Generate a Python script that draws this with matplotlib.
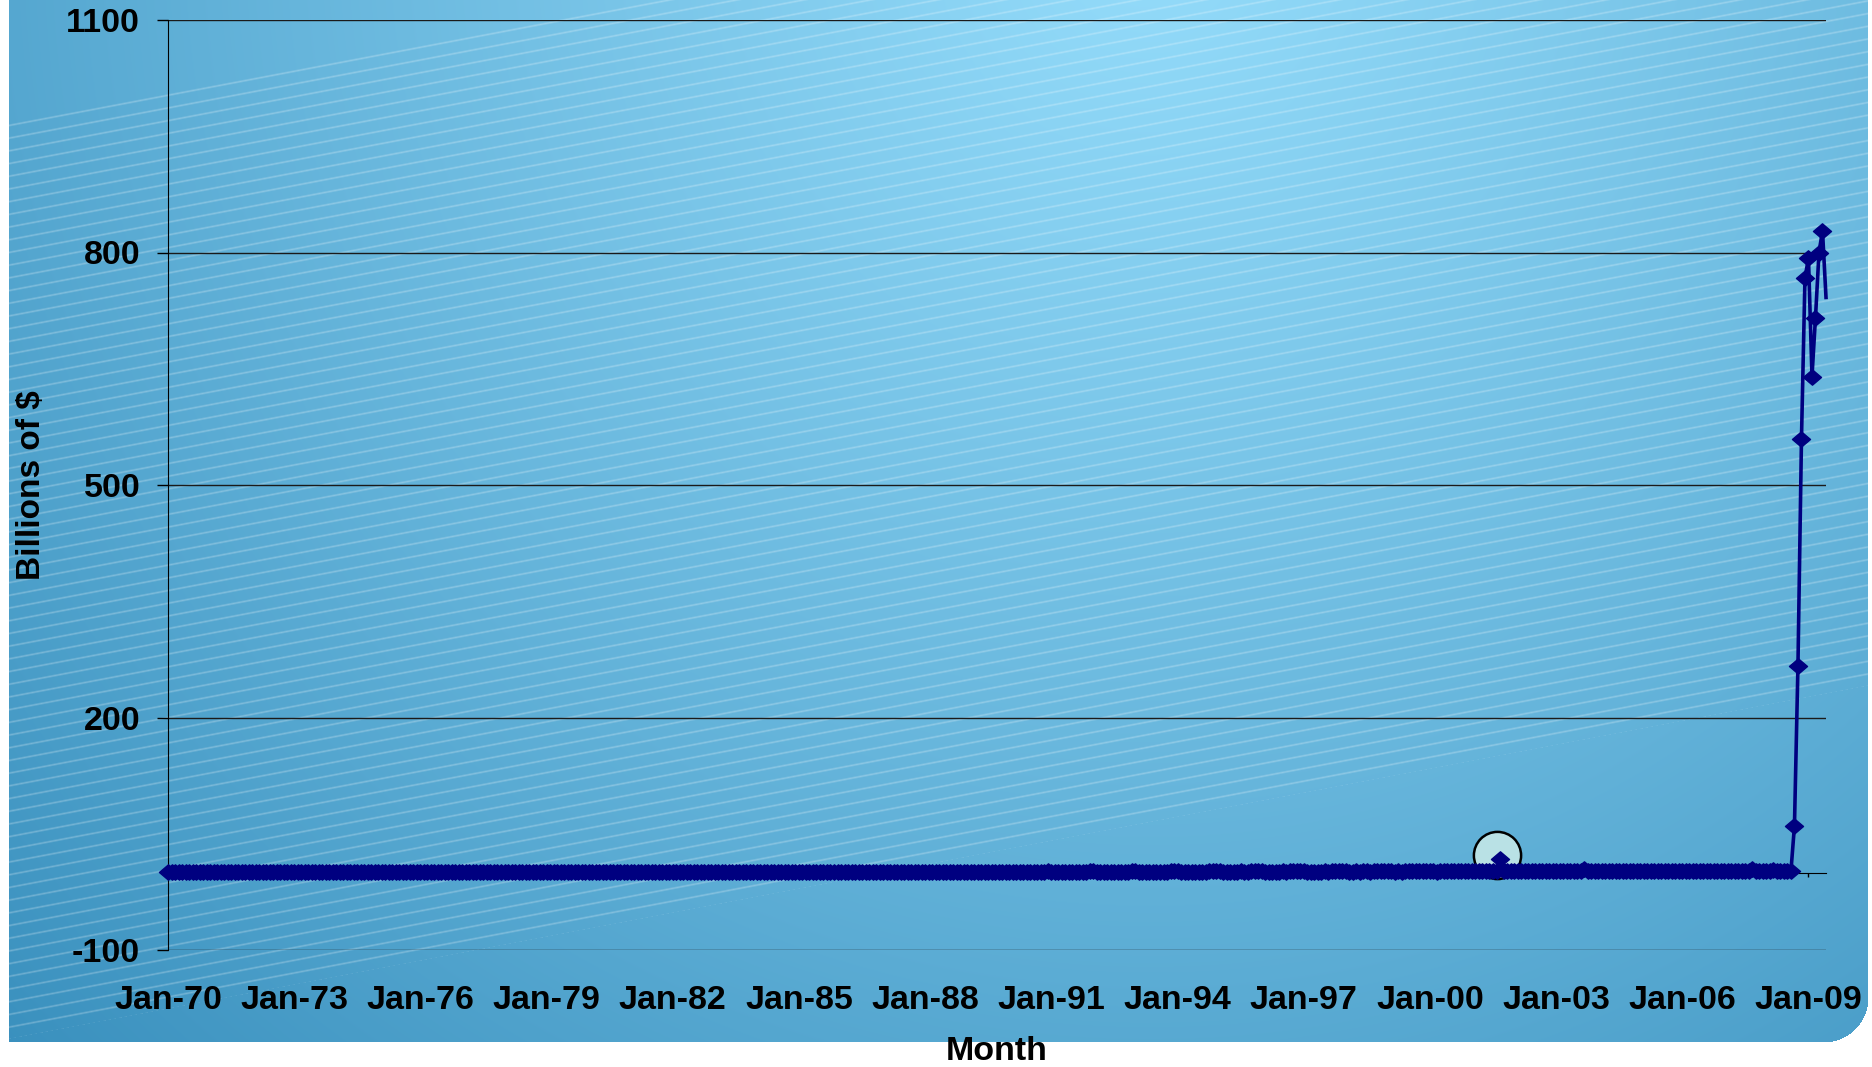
import numpy as np
import matplotlib
matplotlib.use("Agg")
import matplotlib.pyplot as plt
from matplotlib.path import Path

plt.rcParams['font.family'] = ['Liberation Sans', 'DejaVu Sans']
plt.rcParams['font.weight'] = 'bold'

# excess reserves, billions of $, monthly Jan-1970 .. Jun-2009
y1970s = [
    0.18, 0.17, 0.15, 0.20, 0.16, 0.14, 0.18, 0.17, 0.16, 0.15, 0.17, 0.19,
    0.21, 0.19, 0.17, 0.18, 0.22, 0.20, 0.19, 0.17, 0.18, 0.20, 0.21, 0.23,
    0.24, 0.20, 0.22, 0.19, 0.21, 0.23, 0.25, 0.22, 0.20, 0.24, 0.26, 0.28,
    0.25, 0.22, 0.24, 0.21, 0.20, 0.23, 0.22, 0.24, 0.26, 0.25, 0.27, 0.30,
    0.27, 0.25, 0.24, 0.22, 0.26, 0.28, 0.25, 0.23, 0.27, 0.29, 0.30, 0.32,
    0.30, 0.27, 0.26, 0.29, 0.31, 0.28, 0.27, 0.25, 0.30, 0.32, 0.34, 0.36,
    0.33, 0.30, 0.28, 0.31, 0.29, 0.27, 0.30, 0.26, 0.28, 0.31, 0.33, 0.35,
    0.31, 0.28, 0.27, 0.30, 0.26, 0.25, 0.29, 0.24, 0.27, 0.30, 0.32, 0.34,
    0.30, 0.27, 0.25, 0.28, 0.26, 0.29, 0.27, 0.24, 0.28, 0.31, 0.33, 0.37,
    0.34, 0.30, 0.28, 0.32, 0.29, 0.31, 0.33, 0.28, 0.30, 0.35, 0.38, 0.42,
]
y1980s = [
    0.45, 0.38, 0.36, 0.40, 0.35, 0.39, 0.42, 0.37, 0.41, 0.44, 0.47, 0.52,
    0.48, 0.40, 0.37, 0.42, 0.38, 0.36, 0.41, 0.39, 0.43, 0.46, 0.49, 0.55,
    0.51, 0.44, 0.41, 0.46, 0.43, 0.40, 0.45, 0.42, 0.47, 0.50, 0.53, 0.60,
    0.58, 0.49, 0.46, 0.52, 0.48, 0.51, 0.55, 0.50, 0.54, 0.57, 0.61, 0.68,
    0.66, 0.55, 0.52, 0.60, 0.56, 0.59, 0.63, 0.58, 0.62, 0.66, 0.70, 0.78,
    0.80, 0.68, 0.64, 0.72, 0.69, 0.75, 0.78, 0.71, 0.76, 0.82, 0.88, 0.96,
    0.98, 0.84, 0.79, 0.87, 0.83, 0.90, 0.95, 0.88, 0.92, 1.00, 1.06, 1.15,
    1.10, 0.92, 0.86, 0.95, 0.90, 0.97, 1.02, 0.94, 0.99, 1.05, 1.10, 1.18,
    1.12, 0.95, 0.90, 0.98, 0.93, 1.00, 1.04, 0.96, 1.01, 1.07, 1.12, 1.20,
    1.15, 0.98, 0.92, 1.01, 0.96, 1.03, 1.07, 0.99, 1.04, 1.10, 1.16, 1.25,
]
y1990s = [
    1.20, 1.02, 0.96, 1.05, 0.99, 1.06, 1.10, 1.02, 1.08, 1.13, 1.19, 1.30,
    1.26, 1.07, 1.00, 1.10, 1.04, 1.11, 1.16, 1.08, 1.13, 1.19, 1.25, 1.36,
    1.30, 1.10, 1.03, 1.13, 1.07, 1.15, 1.20, 1.11, 1.17, 1.23, 1.29, 1.41,
    1.35, 1.14, 1.06, 1.17, 1.10, 1.18, 1.24, 1.15, 1.21, 1.27, 1.33, 1.45,
    1.38, 1.17, 1.09, 1.20, 1.13, 1.21, 1.27, 1.18, 1.24, 1.30, 1.36, 1.49,
    1.41, 1.19, 1.11, 1.22, 1.15, 1.24, 1.30, 1.21, 1.27, 1.33, 1.40, 1.52,
    1.44, 1.22, 1.14, 1.25, 1.18, 1.27, 1.33, 1.24, 1.30, 1.36, 1.43, 1.56,
    1.47, 1.25, 1.16, 1.28, 1.20, 1.29, 1.35, 1.26, 1.32, 1.39, 1.46, 1.59,
    1.50, 1.27, 1.19, 1.30, 1.23, 1.32, 1.38, 1.29, 1.35, 1.42, 1.49, 1.62,
    1.54, 1.30, 1.22, 1.33, 1.26, 1.35, 1.41, 1.32, 1.38, 1.45, 1.52, 1.70,
]
y2000s = [
    1.65, 1.38, 1.29, 1.41, 1.33, 1.42, 1.48, 1.39, 1.45, 1.52, 1.59, 1.72,
    1.68, 1.40, 1.31, 1.44, 1.36, 1.45, 1.51, 1.42, 18.0, 2.10, 1.75, 1.85,
    1.72, 1.45, 1.36, 1.48, 1.40, 1.49, 1.55, 1.46, 1.52, 1.60, 1.67, 1.80,
    1.75, 1.48, 1.39, 1.51, 1.43, 1.52, 1.58, 1.49, 4.50, 1.63, 1.70, 1.84,
    1.78, 1.51, 1.42, 1.54, 1.46, 1.55, 1.61, 1.52, 1.58, 1.66, 1.73, 1.88,
    1.81, 1.54, 1.45, 1.57, 1.49, 1.58, 1.64, 1.55, 1.61, 1.69, 1.76, 1.92,
    1.84, 1.57, 1.48, 1.60, 1.52, 1.61, 1.67, 1.58, 1.64, 1.72, 1.79, 1.95,
    1.87, 1.60, 1.51, 1.63, 1.55, 1.64, 1.70, 1.90, 4.20, 1.85, 1.82, 1.98,
    1.75, 1.70, 3.50, 1.85, 1.80, 2.10, 1.90, 1.95, 60.0, 267.0, 559.0, 767.0,
    793.0, 640.0, 716.0, 800.0, 828.0, 742.0,
]
excess = np.array(y1970s + y1980s + y1990s + y2000s)
months = np.arange(len(excess))

tick_pos = np.arange(0, len(excess), 36)
tick_labels = ["Jan-70", "Jan-73", "Jan-76", "Jan-79", "Jan-82", "Jan-85", "Jan-88",
               "Jan-91", "Jan-94", "Jan-97", "Jan-00", "Jan-03", "Jan-06", "Jan-09"]
y_ticks = [-100, 200, 500, 800, 1100]
spike_month = 380  # Sep-01

W, H = 1872, 1067
fig = plt.figure(figsize=(W / 100, H / 100), dpi=100)

# background panel: radial blue gradient with light diagonal stripes
yy, xx = np.mgrid[0:H, 0:W].astype(float)
d = np.hypot(xx - 1150, yy + 60)
t = (np.clip(d / 1620, 0, 1) ** 1.1)[..., None]
light = np.array([0.58, 0.86, 0.98])
dark = np.array([0.22, 0.56, 0.74])
rgb = light * (1 - t) + dark * t
s = yy + 0.19 * xx
band = (s > 125) & (s < 1040)
phase = (s - 125) % 12.7
prof = np.clip(1 - np.abs(phase - 1.6) / 1.6, 0, 1)
alpha = (0.26 * prof * band)[..., None]
rgb = rgb * (1 - alpha) + alpha
R = 45
cx, cy = 1868 - R, 1042 - R
outside = (xx < 9) | (xx >= 1868) | (yy >= 1042)
outside |= (xx > cx) & (yy > cy) & (np.hypot(xx - cx, yy - cy) > R)
rgb[outside] = 1.0

bg = fig.add_axes([0, 0, 1, 1])
bg.imshow(rgb, aspect='auto', interpolation='nearest')
bg.axis('off')

ax = fig.add_axes([168 / W, 1 - 950 / H, (1826 - 168) / W, 930 / H])
ax.patch.set_alpha(0)

# highlight around the Sep-01 spike
ax.plot(spike_month - 1, excess[spike_month] + 5, 'o', ms=34, mfc='#b9e1e5',
        mec='black', mew=1.8, zorder=2)

diamond = Path([(-1, 0), (0, 0.85), (1, 0), (0, -0.85), (-1, 0)],
               [Path.MOVETO, Path.LINETO, Path.LINETO, Path.LINETO, Path.CLOSEPOLY])
ax.plot(months, excess, color='#000080', lw=2.6, marker=diamond, ms=13,
        mfc='#000080', mec='#000080', markevery=list(range(len(excess) - 1)),
        zorder=3, clip_on=False)

ax.set_xlim(0, len(excess) - 1)
ax.set_ylim(-100, 1100)
ax.set_yticks(y_ticks)
ax.set_yticklabels([str(v) for v in y_ticks], fontsize=24.5, fontweight='bold')
ax.tick_params(axis='y', direction='out', length=8, width=1, pad=12, color='black')
ax.grid(axis='y', color='#1a1a1a', lw=1)
ax.set_axisbelow(True)

for side in ['top', 'right']:
    ax.spines[side].set_visible(False)
ax.spines['left'].set_color('black')
ax.spines['bottom'].set_position(('data', 0))
ax.spines['bottom'].set_color('black')
ax.set_xticks(tick_pos)
ax.tick_params(axis='x', direction='out', length=3, width=1, labelbottom=False)

sec = ax.secondary_xaxis('bottom')
sec.set_xticks(tick_pos)
sec.set_xticklabels(tick_labels, fontsize=24.5, fontweight='bold')
sec.tick_params(length=0, pad=25)
sec.spines['bottom'].set_visible(False)

ax.set_xlabel('Month', fontsize=24.5, fontweight='bold')
ax.xaxis.set_label_coords(0.5, -0.093)
ax.set_ylabel('Billions of $', fontsize=24, fontweight='bold')
ax.yaxis.set_label_coords(-0.073, 0.5)

fig.savefig('out.png', dpi=100)
